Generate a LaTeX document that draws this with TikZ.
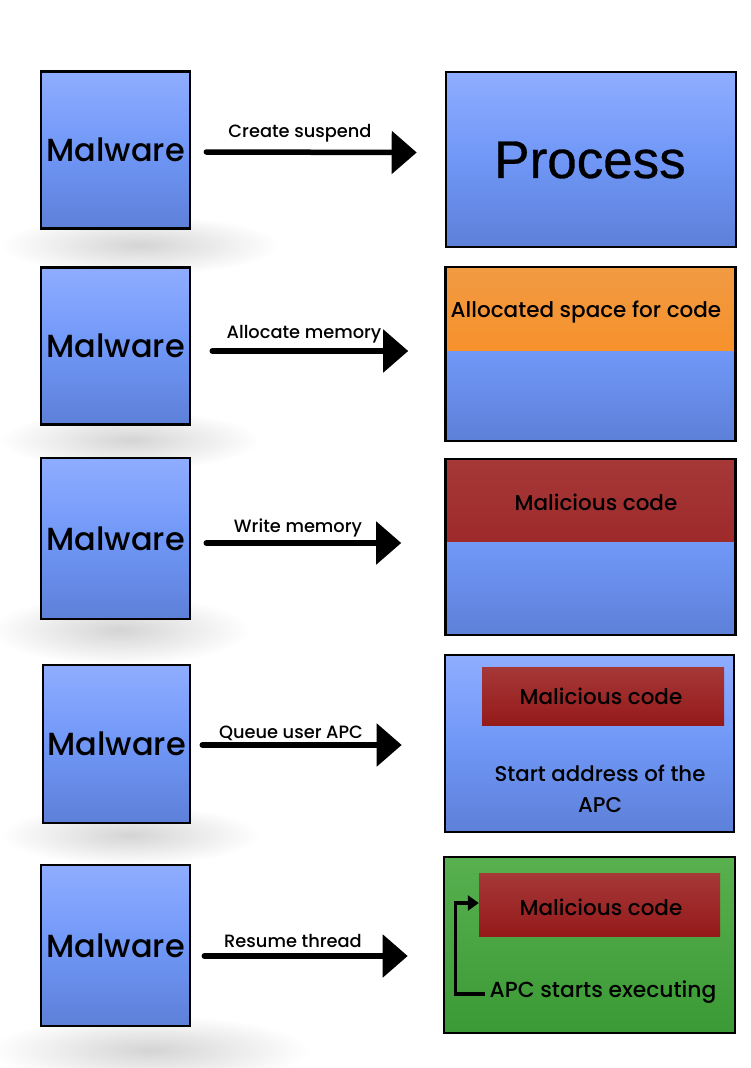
\documentclass[tikz,border=0pt]{standalone}
\usepackage{fontspec}
\setmainfont{Poppins}[UprightFont={* Medium}]
\newfontfamily\procfont{Liberation Sans}[FakeBold=0.6]
\usetikzlibrary{arrows.meta}

\definecolor{blueTop}{HTML}{8FADFF}
\definecolor{blueMid}{HTML}{7097F7}
\definecolor{blueBot}{HTML}{5D80D8}
\definecolor{orangeTop}{HTML}{F09A42}
\definecolor{orangeBot}{HTML}{FF8914}
\definecolor{redTop}{HTML}{A63838}
\definecolor{redBot}{HTML}{951A1A}
\definecolor{greenTop}{HTML}{58B04F}
\definecolor{greenBot}{HTML}{3B9A35}
\definecolor{haze}{HTML}{D4D4D4}

\tikzset{
  bluefill/.style={top color=blueTop, bottom color=blueBot, middle color=blueMid},
  malbox/.style={draw=black, line width=2.6pt, bluefill, minimum width=149pt,
    minimum height=157pt, inner sep=0pt, font=\fontsize{32}{36}\selectfont},
  procbox/.style={draw=black, line width=2.6pt, minimum width=290pt,
    minimum height=175pt, inner sep=0pt},
  flow/.style={line width=5.5pt, line cap=round,
    -{Triangle[length=25pt,width=42pt]}},
  lbl/.style={font=\fontsize{17.8}{20}\selectfont, inner sep=0pt},
  bandtxt/.style={font=\fontsize{21.5}{24}\selectfont, inner sep=0pt},
  codetxt/.style={font=\fontsize{21.5}{24}\selectfont, inner sep=0pt},
  redband/.style={top color=redTop, bottom color=redBot, draw=none},
  bracket/.style={line width=3.2pt, -{Triangle[length=11pt,width=15pt]}},
  topband/.style 2 args={path picture={
    \shade[top color=#1Top, bottom color=#1Bot]
      (path picture bounding box.north west) rectangle
      ([yshift=-#2]path picture bounding box.north east);}},
}

\begin{document}
\begin{tikzpicture}[x=1pt,y=-1pt]
\useasboundingbox (0,0) rectangle (750,1068);
\fill[white] (0,0) rectangle (750,1068);

% soft grey haze round the left column
\foreach \cx/\cy/\rx/\ry in {140/245/140/30, 130/440/130/30, 120/630/130/35,
    130/835/130/30, 150/1050/160/35} {
  \shade[inner color=haze, outer color=white] (\cx,\cy) ellipse ({\rx} and {\ry});
}

% ---------- row 1 ----------
\node[malbox] (m1) at (115.5,150) {Malware};
\node[procbox, bluefill] (p1) at (591,159.5) {};
\node[font=\procfont\fontsize{53}{56}\selectfont] (t1) at (590,160) {Process};
\draw[flow] ([xshift=15pt,yshift=-2pt]m1.east) -- ([xshift=-28pt,yshift=7pt]p1.west);
\node[lbl] (l1) at (300,133) {Create suspend};

% ---------- row 2 ----------
\node[malbox] (m2) at (115.5,346) {Malware};
\node[procbox, bluefill, minimum height=174pt, topband={orange}{83pt}] (p2) at (590.5,354) {};
\node[bandtxt] (b2) at (586,312) {Allocated space for code};
\draw[flow] ([xshift=21pt,yshift=-5pt]m2.east) -- ([xshift=-36pt,yshift=3pt]p2.west);
\node[lbl] (l2) at (304,334) {Allocate memory};

% ---------- row 3 ----------
\node[malbox, minimum height=161pt] (m3) at (115.5,538.5) {Malware};
\node[procbox, bluefill, minimum height=176pt, topband={red}{82pt}] (p3) at (590.5,547) {};
\node[codetxt] (b3) at (596,502) {Malicious code};
\draw[flow] ([xshift=15pt,yshift=-4.5pt]m3.east) -- ([xshift=-43pt,yshift=4pt]p3.west);
\node[lbl] (l3) at (298,528) {Write memory};

% ---------- row 4 ----------
\node[malbox, minimum width=147pt, minimum height=158pt] (m4) at (116.5,744) {Malware};
\node[procbox, bluefill, minimum width=289pt, minimum height=177pt] (p4) at (589.5,743.5) {};
\node[redband, minimum width=242pt, minimum height=58pt, inner sep=0pt] (c4) at (603,696) {};
\node[codetxt] (b4) at (601,696) {Malicious code};
\node[codetxt, align=center, font=\fontsize{21.3}{31}\selectfont] (s4) at (600,789)
  {Start address of the\\APC};
\draw[flow] ([xshift=11pt,yshift=-1pt]m4.east) -- ([xshift=-42pt,yshift=-1.5pt]p4.west);
\node[lbl] (l4) at (291,733) {Queue user APC};

% ---------- row 5 ----------
\node[malbox, minimum height=161pt] (m5) at (115.5,945.5) {Malware};
\node[procbox, top color=greenTop, bottom color=greenBot, minimum width=291pt,
  minimum height=176pt] (p5) at (589.5,945) {};
\node[redband, minimum width=241pt, minimum height=63pt, inner sep=0pt] (c5) at (599.5,904.5) {};
\node[codetxt] (b5) at (601,907) {Malicious code};
\node[codetxt, font=\fontsize{21.8}{24}\selectfont] (a5) at (603,992) {APC starts executing};
\draw[bracket] ([xshift=-4pt,yshift=-2pt]a5.west) -- ++(-30,0) |- ([yshift=1.5pt]c5.west);
\draw[flow] ([xshift=13pt,yshift=-10.5pt]m5.east) -- ([xshift=-35pt,yshift=-11pt]p5.west);
\node[lbl] (l5) at (293,941) {Resume thread};
\end{tikzpicture}
\end{document}
